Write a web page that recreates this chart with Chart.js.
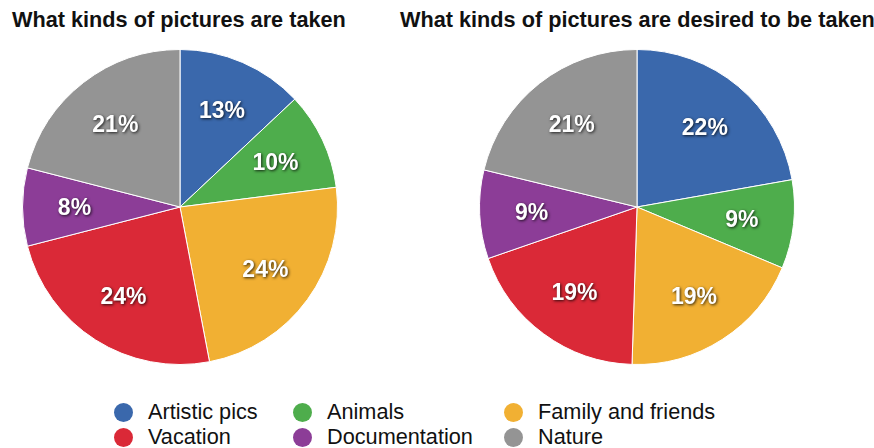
<!DOCTYPE html>
<html>
<head>
<meta charset="utf-8">
<script src="https://cdn.jsdelivr.net/npm/chart.js@4.4.0/dist/chart.umd.min.js"></script>
<style>
  body { margin: 0; background: #fff; width: 874px; height: 448px; overflow: hidden; position: relative;
         font-family: "Liberation Sans", Arial, sans-serif; }
  .title { position: absolute; top: 7px; font-weight: bold; font-size: 21.7px; color: #111; white-space: nowrap; }
  .box { position: absolute; top: 49px; width: 316px; height: 316px; }
  #legend { position: absolute; left: 0; top: 400px; width: 874px; height: 48px; }
  .item { position: absolute; font-size: 21.7px; color: #111; white-space: nowrap; line-height: 24px; }
  .dot { position: absolute; width: 19px; height: 19px; border-radius: 50%; }
</style>
</head>
<body>
<div class="title" style="left:12px">What kinds of pictures are taken</div>
<div class="title" style="left:400px">What kinds of pictures are desired to be taken</div>
<div class="box" style="left:22px"><canvas id="takenChart"></canvas></div>
<div class="box" style="left:479px"><canvas id="desiredChart"></canvas></div>
<div id="legend"></div>
<script>
// data
const categories = ['Artistic pics', 'Animals', 'Family and friends', 'Vacation', 'Documentation', 'Nature'];
const takenValues = [13, 10, 24, 24, 8, 21];
const desiredValues = [22, 9, 19, 19, 9, 21];
const sliceColors = ['#3A68AC', '#4EAD4C', '#F1B033', '#DA2937', '#8C3D97', '#949494'];

// legend layout: 3 columns, 2 rows
const legendCols = [148, 327, 538];
const legendRows = [0, 25];
const legend = document.getElementById('legend');
categories.forEach((name, i) => {
    const x = legendCols[i % 3];
    const y = legendRows[Math.floor(i / 3)];
    const dot = document.createElement('div');
    dot.className = 'dot';
    dot.style.background = sliceColors[i];
    dot.style.left = (x - 34) + 'px';
    dot.style.top = (y + 3) + 'px';
    legend.appendChild(dot);
    const lbl = document.createElement('div');
    lbl.className = 'item';
    lbl.style.left = x + 'px';
    lbl.style.top = y + 'px';
    lbl.textContent = name;
    legend.appendChild(lbl);
});

// percentage labels inside the slices
const sliceLabels = {
    id: 'sliceLabels',
    afterDatasetsDraw(chart) {
        const ctx = chart.ctx;
        const values = chart.data.datasets[0].data;
        chart.getDatasetMeta(0).data.forEach((arc, i) => {
            const mid = (arc.startAngle + arc.endAngle) / 2;
            const r = arc.outerRadius * 0.67;
            const x = arc.x + Math.cos(mid) * r;
            const y = arc.y + Math.sin(mid) * r + 2;
            ctx.save();
            ctx.font = 'bold 23px "Liberation Sans", Arial, sans-serif';
            ctx.textAlign = 'center';
            ctx.textBaseline = 'middle';
            ctx.shadowColor = 'rgba(0,0,0,0.8)';
            ctx.shadowBlur = 3;
            ctx.shadowOffsetX = 1;
            ctx.shadowOffsetY = 1;
            ctx.fillStyle = '#fff';
            ctx.fillText(values[i] + '%', x, y);
            ctx.restore();
        });
    }
};

function makePie(id, values) {
    return new Chart(document.getElementById(id), {
        type: 'pie',
        data: {
            labels: categories,
            datasets: [{
                data: values,
                backgroundColor: sliceColors,
                borderColor: '#fff',
                borderWidth: 1
            }]
        },
        options: {
            responsive: true,
            maintainAspectRatio: false,
            animation: false,
            layout: { padding: 0 },
            plugins: {
                legend: { display: false },
                tooltip: { enabled: false }
            }
        },
        plugins: [sliceLabels]
    });
}

makePie('takenChart', takenValues);
makePie('desiredChart', desiredValues);
</script>
</body>
</html>
